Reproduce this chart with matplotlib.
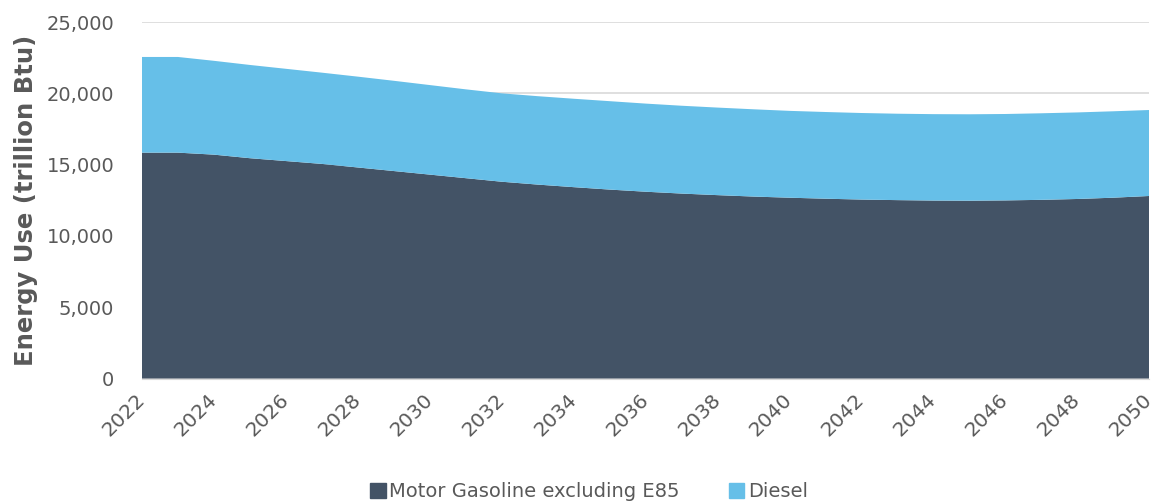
import numpy as np
import matplotlib.pyplot as plt
from matplotlib.patches import Patch

years = list(range(2022, 2051))
gasoline = [15840, 15840, 15700, 15450, 15250, 15050, 14800, 14550, 14300, 14050,
            13800, 13600, 13420, 13250, 13100, 12970, 12860, 12760, 12680, 12610,
            12550, 12510, 12480, 12470, 12490, 12530, 12590, 12680, 12800]
total = [22550, 22550, 22280, 21990, 21720, 21450, 21170, 20880, 20580, 20280,
         20000, 19800, 19620, 19450, 19280, 19130, 19000, 18880, 18770, 18690,
         18620, 18570, 18540, 18530, 18550, 18600, 18660, 18740, 18830]
diesel = [t - g for t, g in zip(total, gasoline)]

labels = ['Motor Gasoline excluding E85', 'Diesel']
colors = ['#435366', '#66BFE8']
txt = '#595959'

fig = plt.figure(figsize=(11.55, 5.04), dpi=100)
ax = fig.add_axes([0.1229, 0.249, 0.872, 0.7073])

ax.stackplot(years, gasoline, diesel, colors=colors, linewidth=0, zorder=2)

ax.set_xlim(2022, 2050)
ax.set_ylim(0, 25000)
ax.set_yticks(np.arange(0, 25001, 5000))
ax.set_yticklabels([f'{v:,}' for v in range(0, 25001, 5000)])
ax.set_xticks(years[::2])
ax.set_xticklabels([str(y) for y in years[::2]], rotation=45, ha='right',
                   va='center', rotation_mode='anchor')

ax.grid(axis='y', color='#D9D9D9', linewidth=1.2, zorder=0)
ax.set_axisbelow(True)
for s in ['top', 'right', 'left']:
    ax.spines[s].set_visible(False)
ax.spines['bottom'].set_color('#D9D9D9')
ax.tick_params(axis='both', length=0, labelsize=14, colors=txt)
ax.tick_params(axis='y', pad=20)
ax.tick_params(axis='x', labelsize=14.5, pad=13)

ax.set_ylabel('Energy Use (trillion Btu)', fontsize=17.5, fontweight='bold',
              color=txt, labelpad=6)

handles = [Patch(color=c, label=l) for c, l in zip(colors, labels)]
fig.legend(handles=handles, loc='center', bbox_to_anchor=(0.51, 0.025), ncol=2,
           frameon=False, fontsize=14, labelcolor=txt, handlelength=0.8,
           handleheight=0.8, handletextpad=0.2, columnspacing=2.5)

fig.savefig('out.png', dpi=100)
